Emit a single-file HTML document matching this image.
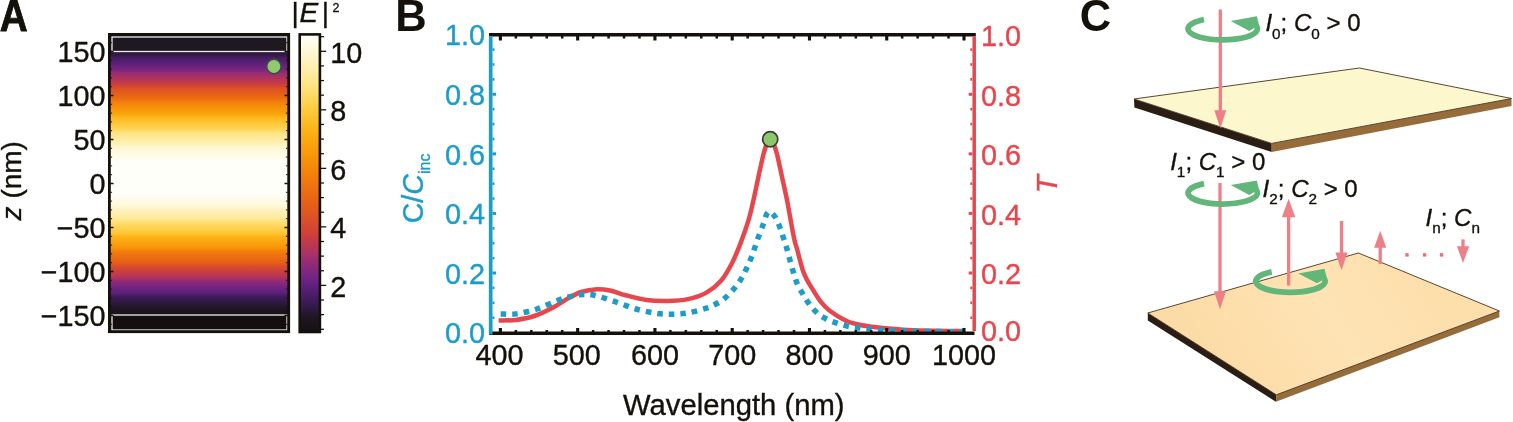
<!DOCTYPE html>
<html lang="en"><head><meta charset="utf-8"><title>Figure</title>
<style>html,body{margin:0;padding:0;background:#fff}body{width:1513px;height:422px;overflow:hidden}svg{display:block}text{font-family:'Liberation Sans', Arial, Helvetica, sans-serif}</style></head><body>
<svg width="1513" height="422" viewBox="0 0 1513 422">
<rect width="1513" height="422" fill="#fff"/>
<defs>
<linearGradient id="heat" gradientUnits="userSpaceOnUse" x1="0" y1="34" x2="0" y2="332">
<stop offset="0" stop-color="#161114"/>
<stop offset="0.02" stop-color="#181218"/>
<stop offset="0.03" stop-color="#1b141e"/>
<stop offset="0.05" stop-color="#23172a"/>
<stop offset="0.07" stop-color="#321945"/>
<stop offset="0.08" stop-color="#451d60"/>
<stop offset="0.1" stop-color="#5e207b"/>
<stop offset="0.12" stop-color="#782580"/>
<stop offset="0.13" stop-color="#952c74"/>
<stop offset="0.15" stop-color="#b1345d"/>
<stop offset="0.17" stop-color="#cc3f3c"/>
<stop offset="0.18" stop-color="#da4e29"/>
<stop offset="0.2" stop-color="#e55f19"/>
<stop offset="0.22" stop-color="#ed7011"/>
<stop offset="0.23" stop-color="#f3820c"/>
<stop offset="0.25" stop-color="#f79409"/>
<stop offset="0.27" stop-color="#fba60f"/>
<stop offset="0.28" stop-color="#fdb71d"/>
<stop offset="0.3" stop-color="#ffc736"/>
<stop offset="0.32" stop-color="#ffd559"/>
<stop offset="0.33" stop-color="#ffe27d"/>
<stop offset="0.35" stop-color="#ffea9d"/>
<stop offset="0.37" stop-color="#fff1b9"/>
<stop offset="0.38" stop-color="#fff6d0"/>
<stop offset="0.4" stop-color="#fffae2"/>
<stop offset="0.42" stop-color="#fffdf0"/>
<stop offset="0.43" stop-color="#fffffa"/>
<stop offset="0.45" stop-color="#fffffa"/>
<stop offset="0.47" stop-color="#fffffa"/>
<stop offset="0.48" stop-color="#fffffa"/>
<stop offset="0.5" stop-color="#fffffa"/>
<stop offset="0.52" stop-color="#fffffa"/>
<stop offset="0.53" stop-color="#fffffa"/>
<stop offset="0.55" stop-color="#fffcee"/>
<stop offset="0.57" stop-color="#fff9df"/>
<stop offset="0.58" stop-color="#fff5cd"/>
<stop offset="0.6" stop-color="#ffefb4"/>
<stop offset="0.62" stop-color="#ffe998"/>
<stop offset="0.63" stop-color="#ffdf77"/>
<stop offset="0.65" stop-color="#ffd352"/>
<stop offset="0.67" stop-color="#fec432"/>
<stop offset="0.68" stop-color="#fdb418"/>
<stop offset="0.7" stop-color="#faa30e"/>
<stop offset="0.72" stop-color="#f79108"/>
<stop offset="0.73" stop-color="#f27e0c"/>
<stop offset="0.75" stop-color="#ec6d12"/>
<stop offset="0.77" stop-color="#e45c1a"/>
<stop offset="0.78" stop-color="#d84b2c"/>
<stop offset="0.8" stop-color="#c73d42"/>
<stop offset="0.82" stop-color="#ac3262"/>
<stop offset="0.83" stop-color="#902a76"/>
<stop offset="0.85" stop-color="#732482"/>
<stop offset="0.87" stop-color="#592076"/>
<stop offset="0.88" stop-color="#411c5c"/>
<stop offset="0.9" stop-color="#2f1940"/>
<stop offset="0.92" stop-color="#201626"/>
<stop offset="0.93" stop-color="#1b141d"/>
<stop offset="0.95" stop-color="#171217"/>
<stop offset="0.97" stop-color="#151114"/>
<stop offset="0.98" stop-color="#141012"/>
<stop offset="1" stop-color="#141012"/>
</linearGradient>
<linearGradient id="cbar" gradientUnits="userSpaceOnUse" x1="0" y1="34" x2="0" y2="332.5">
<stop offset="0" stop-color="#fffffa"/>
<stop offset="0.08" stop-color="#fff4c8"/>
<stop offset="0.17" stop-color="#ffe484"/>
<stop offset="0.25" stop-color="#ffcc3e"/>
<stop offset="0.33" stop-color="#fdb012"/>
<stop offset="0.42" stop-color="#f79208"/>
<stop offset="0.5" stop-color="#f0760e"/>
<stop offset="0.58" stop-color="#e45c1a"/>
<stop offset="0.67" stop-color="#d04038"/>
<stop offset="0.75" stop-color="#a02e70"/>
<stop offset="0.83" stop-color="#682286"/>
<stop offset="0.9" stop-color="#3a1b54"/>
<stop offset="0.95" stop-color="#1e1622"/>
<stop offset="1" stop-color="#141012"/>
</linearGradient>
<linearGradient id="slab2" gradientUnits="userSpaceOnUse" x1="1230" y1="390" x2="1420" y2="270"><stop offset="0" stop-color="#fcdca6"/><stop offset="0.55" stop-color="#fee3b4"/><stop offset="1" stop-color="#fddfac"/></linearGradient>
</defs>
<g font-weight="700" font-size="43.5" fill="#14110b">
<text transform="translate(-0.2 30.6) scale(0.89 1)" stroke="#14110b" stroke-width="0.8">A</text>
<text x="395.2" y="30.6">B</text>
<text x="1079.7" y="30.6">C</text>
</g>
<rect x="109.5" y="34.5" width="179" height="297" fill="url(#heat)"/>
<rect x="112" y="37" width="175" height="14.5" fill="#201820" stroke="#efebef" stroke-width="1.3"/>
<rect x="112" y="315" width="175" height="15" fill="#14100f" stroke="#efebec" stroke-width="1.3"/>
<rect x="109.4" y="34.4" width="179.3" height="297.3" fill="none" stroke="#14110b" stroke-width="2.8"/>
<path d="M110.5 315.5 h3 M287.5 315.5 h-3" stroke="#14110b" stroke-width="1.6"/>
<path d="M110.5 271.5 h3 M287.5 271.5 h-3" stroke="#14110b" stroke-width="1.6"/>
<path d="M110.5 227.5 h3 M287.5 227.5 h-3" stroke="#14110b" stroke-width="1.6"/>
<path d="M110.5 183.5 h3 M287.5 183.5 h-3" stroke="#14110b" stroke-width="1.6"/>
<path d="M110.5 139.5 h3 M287.5 139.5 h-3" stroke="#14110b" stroke-width="1.6"/>
<path d="M110.5 95.5 h3 M287.5 95.5 h-3" stroke="#14110b" stroke-width="1.6"/>
<path d="M110.5 51.5 h3 M287.5 51.5 h-3" stroke="#14110b" stroke-width="1.6"/>
<path d="M110.5 324.3 h1.6 M287.5 324.3 h-1.6" stroke="#14110b" stroke-width="1"/>
<path d="M110.5 315.5 h1.6 M287.5 315.5 h-1.6" stroke="#14110b" stroke-width="1"/>
<path d="M110.5 306.7 h1.6 M287.5 306.7 h-1.6" stroke="#14110b" stroke-width="1"/>
<path d="M110.5 297.9 h1.6 M287.5 297.9 h-1.6" stroke="#14110b" stroke-width="1"/>
<path d="M110.5 289.1 h1.6 M287.5 289.1 h-1.6" stroke="#14110b" stroke-width="1"/>
<path d="M110.5 280.3 h1.6 M287.5 280.3 h-1.6" stroke="#14110b" stroke-width="1"/>
<path d="M110.5 271.5 h1.6 M287.5 271.5 h-1.6" stroke="#14110b" stroke-width="1"/>
<path d="M110.5 262.7 h1.6 M287.5 262.7 h-1.6" stroke="#14110b" stroke-width="1"/>
<path d="M110.5 253.9 h1.6 M287.5 253.9 h-1.6" stroke="#14110b" stroke-width="1"/>
<path d="M110.5 245.1 h1.6 M287.5 245.1 h-1.6" stroke="#14110b" stroke-width="1"/>
<path d="M110.5 236.3 h1.6 M287.5 236.3 h-1.6" stroke="#14110b" stroke-width="1"/>
<path d="M110.5 227.5 h1.6 M287.5 227.5 h-1.6" stroke="#14110b" stroke-width="1"/>
<path d="M110.5 218.7 h1.6 M287.5 218.7 h-1.6" stroke="#14110b" stroke-width="1"/>
<path d="M110.5 209.9 h1.6 M287.5 209.9 h-1.6" stroke="#14110b" stroke-width="1"/>
<path d="M110.5 201.1 h1.6 M287.5 201.1 h-1.6" stroke="#14110b" stroke-width="1"/>
<path d="M110.5 192.3 h1.6 M287.5 192.3 h-1.6" stroke="#14110b" stroke-width="1"/>
<path d="M110.5 183.5 h1.6 M287.5 183.5 h-1.6" stroke="#14110b" stroke-width="1"/>
<path d="M110.5 174.7 h1.6 M287.5 174.7 h-1.6" stroke="#14110b" stroke-width="1"/>
<path d="M110.5 165.9 h1.6 M287.5 165.9 h-1.6" stroke="#14110b" stroke-width="1"/>
<path d="M110.5 157.1 h1.6 M287.5 157.1 h-1.6" stroke="#14110b" stroke-width="1"/>
<path d="M110.5 148.3 h1.6 M287.5 148.3 h-1.6" stroke="#14110b" stroke-width="1"/>
<path d="M110.5 139.5 h1.6 M287.5 139.5 h-1.6" stroke="#14110b" stroke-width="1"/>
<path d="M110.5 130.7 h1.6 M287.5 130.7 h-1.6" stroke="#14110b" stroke-width="1"/>
<path d="M110.5 121.9 h1.6 M287.5 121.9 h-1.6" stroke="#14110b" stroke-width="1"/>
<path d="M110.5 113.1 h1.6 M287.5 113.1 h-1.6" stroke="#14110b" stroke-width="1"/>
<path d="M110.5 104.3 h1.6 M287.5 104.3 h-1.6" stroke="#14110b" stroke-width="1"/>
<path d="M110.5 95.5 h1.6 M287.5 95.5 h-1.6" stroke="#14110b" stroke-width="1"/>
<path d="M110.5 86.7 h1.6 M287.5 86.7 h-1.6" stroke="#14110b" stroke-width="1"/>
<path d="M110.5 77.9 h1.6 M287.5 77.9 h-1.6" stroke="#14110b" stroke-width="1"/>
<path d="M110.5 69.1 h1.6 M287.5 69.1 h-1.6" stroke="#14110b" stroke-width="1"/>
<path d="M110.5 60.3 h1.6 M287.5 60.3 h-1.6" stroke="#14110b" stroke-width="1"/>
<path d="M110.5 51.5 h1.6 M287.5 51.5 h-1.6" stroke="#14110b" stroke-width="1"/>
<path d="M110.5 42.7 h1.6 M287.5 42.7 h-1.6" stroke="#14110b" stroke-width="1"/>
<circle cx="273.9" cy="66.5" r="7.2" fill="#90c874" stroke="#3d4d3a" stroke-width="1.5"/>
<g font-size="28.8" fill="#14110b" text-anchor="end" stroke="#14110b" stroke-width="0.35">
<text x="105.5" y="62.1">150</text>
<text x="105.5" y="106.1">100</text>
<text x="105.5" y="150.1">50</text>
<text x="105.5" y="194.1">0</text>
<text x="105.5" y="238.1">−50</text>
<text x="105.5" y="282.1">−100</text>
<text x="105.5" y="326.1">−150</text>
</g>
<text transform="translate(21.3 220.4) rotate(-90)" font-size="28" fill="#14110b" stroke="#14110b" stroke-width="0.35"><tspan font-style="italic">z</tspan> (nm)</text>
<rect x="299.7" y="34.4" width="20.2" height="297.6" fill="url(#cbar)" stroke="#14110b" stroke-width="2.6"/>
<path d="M321 329.27 h3" stroke="#14110b" stroke-width="1.25"/>
<path d="M321 314.64 h3" stroke="#14110b" stroke-width="1.25"/>
<path d="M321 300.01 h3" stroke="#14110b" stroke-width="1.25"/>
<path d="M321 285.38 h5.2" stroke="#14110b" stroke-width="1.25"/>
<path d="M321 270.75 h3" stroke="#14110b" stroke-width="1.25"/>
<path d="M321 256.12 h3" stroke="#14110b" stroke-width="1.25"/>
<path d="M321 241.49 h3" stroke="#14110b" stroke-width="1.25"/>
<path d="M321 226.86 h5.2" stroke="#14110b" stroke-width="1.25"/>
<path d="M321 212.23 h3" stroke="#14110b" stroke-width="1.25"/>
<path d="M321 197.6 h3" stroke="#14110b" stroke-width="1.25"/>
<path d="M321 182.97 h3" stroke="#14110b" stroke-width="1.25"/>
<path d="M321 168.34 h5.2" stroke="#14110b" stroke-width="1.25"/>
<path d="M321 153.71 h3" stroke="#14110b" stroke-width="1.25"/>
<path d="M321 139.08 h3" stroke="#14110b" stroke-width="1.25"/>
<path d="M321 124.45 h3" stroke="#14110b" stroke-width="1.25"/>
<path d="M321 109.82 h5.2" stroke="#14110b" stroke-width="1.25"/>
<path d="M321 95.19 h3" stroke="#14110b" stroke-width="1.25"/>
<path d="M321 80.56 h3" stroke="#14110b" stroke-width="1.25"/>
<path d="M321 65.93 h3" stroke="#14110b" stroke-width="1.25"/>
<path d="M321 51.3 h5.2" stroke="#14110b" stroke-width="1.25"/>
<path d="M321 36.67 h3" stroke="#14110b" stroke-width="1.25"/>
<g font-size="28.8" fill="#14110b" stroke="#14110b" stroke-width="0.35">
<text x="330.2" y="62.7">10</text>
<text x="330.2" y="121.22">8</text>
<text x="330.2" y="179.74">6</text>
<text x="330.2" y="238.26">4</text>
<text x="330.2" y="296.78">2</text>
</g>
<text y="22" font-size="28" fill="#14110b" stroke="#14110b" stroke-width="0.35"><tspan x="291.5">|</tspan><tspan x="299.6" font-style="italic">E</tspan><tspan x="321.8">|</tspan><tspan x="332.6" font-size="12.5" dy="-9.8">2</tspan></text>
<path d="M498.6 320.6 C501.5 320.48 510.05 320.67 516 319.9 C521.95 319.13 528.2 318.03 534.3 316 C540.4 313.97 546.95 310.65 552.6 307.7 C558.25 304.75 563.43 300.92 568.2 298.3 C572.97 295.68 576.42 293.52 581.2 292 C585.98 290.48 592.12 289.45 596.9 289.2 C601.68 288.95 605.12 289.5 609.9 290.5 C614.68 291.5 619.52 293.63 625.6 295.2 C631.68 296.77 639.45 298.95 646.4 299.9 C653.35 300.85 660.35 301.03 667.3 300.9 C674.25 300.77 681.58 300.48 688.1 299.1 C694.62 297.72 700.92 295.65 706.4 292.6 C711.88 289.55 716.77 285.65 721 280.8 C725.23 275.95 728.53 269.78 731.8 263.5 C735.07 257.22 737.8 250.37 740.6 243.1 C743.4 235.83 746.45 227.08 748.6 219.9 C750.75 212.72 751.88 207.08 753.5 200 C755.12 192.92 756.62 185.12 758.3 177.4 C759.98 169.68 762.08 159.52 763.6 153.7 C765.12 147.88 766.3 144.88 767.4 142.5 C768.5 140.12 769.27 139.4 770.2 139.4 C771.13 139.4 771.88 140.12 773 142.5 C774.12 144.88 775.38 147.88 776.9 153.7 C778.42 159.52 780.42 169.68 782.1 177.4 C783.78 185.12 785.58 192.92 787 200 C788.42 207.08 789.37 213.27 790.6 219.9 C791.83 226.53 793.28 234.78 794.4 239.8 C795.52 244.82 795.9 244.93 797.3 250 C798.7 255.07 801.08 265.03 802.8 270.2 C804.52 275.37 805.87 277.65 807.6 281 C809.33 284.35 811.03 286.88 813.2 290.3 C815.37 293.72 817.9 298.13 820.6 301.5 C823.3 304.87 825.25 307.32 829.4 310.5 C833.55 313.68 840.9 318.3 845.5 320.6 C850.1 322.9 852.97 323.3 857 324.3 C861.03 325.3 865.03 325.93 869.7 326.6 C874.37 327.27 878.62 327.73 885 328.3 C891.38 328.87 899.67 329.58 908 330 C916.33 330.42 925.83 330.62 935 330.8 C944.17 330.98 958.33 331.05 963 331.1" fill="none" stroke="#e8464d" stroke-width="4.5" stroke-linejoin="round"/>
<path d="M500.7 313.9 C503.25 313.9 509.97 314.72 516 313.9 C522.03 313.08 529.93 311.25 536.9 309 C543.87 306.75 551.72 302.62 557.8 300.4 C563.88 298.18 569.07 296.7 573.4 295.7 C577.73 294.7 580.32 294.48 583.8 294.4 C587.28 294.32 589.08 293.98 594.3 295.2 C599.52 296.42 608.15 299.4 615.1 301.7 C622.05 304 629.05 307.05 636 309 C642.95 310.95 650.72 312.53 656.8 313.4 C662.88 314.27 667.28 314.28 672.5 314.2 C677.72 314.12 682.45 313.9 688.1 312.9 C693.75 311.9 702.2 309.47 706.4 308.2 C710.6 306.93 710.48 306.75 713.3 305.3 C716.12 303.85 719.98 302.12 723.3 299.5 C726.62 296.88 730.3 292.92 733.2 289.6 C736.1 286.28 738.43 283.2 740.7 279.6 C742.97 276 744.85 272.15 746.8 268 C748.75 263.85 750.63 259.4 752.4 254.7 C754.17 250 755.57 244.93 757.4 239.8 C759.23 234.67 761.88 228.12 763.4 223.9 C764.92 219.68 765.52 216.55 766.5 214.5 C767.48 212.45 768.32 211.75 769.3 211.6 C770.28 211.45 771.22 212.37 772.4 213.6 C773.58 214.83 775.03 216.37 776.4 219 C777.77 221.63 779.23 225.65 780.6 229.4 C781.97 233.15 783.4 237.73 784.6 241.5 C785.8 245.27 786.78 248.42 787.8 252 C788.82 255.58 789.67 259.3 790.7 263 C791.73 266.7 792.87 270.65 794 274.2 C795.13 277.75 795.98 280.93 797.5 284.3 C799.02 287.67 801.15 291.12 803.1 294.4 C805.05 297.68 806.77 300.82 809.2 304 C811.63 307.18 814.62 310.9 817.7 313.5 C820.78 316.1 824.25 317.92 827.7 319.6 C831.15 321.28 834.77 322.43 838.4 323.6 C842.03 324.77 845.7 325.83 849.5 326.6 C853.3 327.37 857.33 327.77 861.2 328.2 C865.07 328.63 867.9 328.82 872.7 329.2 C877.5 329.58 880.45 330.13 890 330.5 C899.55 330.87 917.83 331.18 930 331.4 C942.17 331.62 957.5 331.73 963 331.8" fill="none" stroke="#1b9cc9" stroke-width="5.5" stroke-dasharray="5.5 6.1"/>
<path d="M489 34.8 H975.8" stroke="#14110b" stroke-width="3.4"/>
<path d="M489 333.2 H974.5" stroke="#14110b" stroke-width="3.5"/>
<path d="M490.7 36.4 V334.5" stroke="#1b9cc9" stroke-width="3.7"/>
<path d="M974.2 36.4 V331" stroke="#e8464d" stroke-width="3.5"/>
<path d="M500.4 36 v4.4 M500.4 332 v-4" stroke="#14110b" stroke-width="3.1"/>
<path d="M515.85 36 v2.4 M515.85 332 v-2" stroke="#14110b" stroke-width="2.5"/>
<path d="M531.31 36 v2.4 M531.31 332 v-2" stroke="#14110b" stroke-width="2.5"/>
<path d="M546.76 36 v2.4 M546.76 332 v-2" stroke="#14110b" stroke-width="2.5"/>
<path d="M562.21 36 v2.4 M562.21 332 v-2" stroke="#14110b" stroke-width="2.5"/>
<path d="M577.67 36 v4.4 M577.67 332 v-4" stroke="#14110b" stroke-width="3.1"/>
<path d="M593.12 36 v2.4 M593.12 332 v-2" stroke="#14110b" stroke-width="2.5"/>
<path d="M608.57 36 v2.4 M608.57 332 v-2" stroke="#14110b" stroke-width="2.5"/>
<path d="M624.03 36 v2.4 M624.03 332 v-2" stroke="#14110b" stroke-width="2.5"/>
<path d="M639.48 36 v2.4 M639.48 332 v-2" stroke="#14110b" stroke-width="2.5"/>
<path d="M654.93 36 v4.4 M654.93 332 v-4" stroke="#14110b" stroke-width="3.1"/>
<path d="M670.39 36 v2.4 M670.39 332 v-2" stroke="#14110b" stroke-width="2.5"/>
<path d="M685.84 36 v2.4 M685.84 332 v-2" stroke="#14110b" stroke-width="2.5"/>
<path d="M701.29 36 v2.4 M701.29 332 v-2" stroke="#14110b" stroke-width="2.5"/>
<path d="M716.75 36 v2.4 M716.75 332 v-2" stroke="#14110b" stroke-width="2.5"/>
<path d="M732.2 36 v4.4 M732.2 332 v-4" stroke="#14110b" stroke-width="3.1"/>
<path d="M747.65 36 v2.4 M747.65 332 v-2" stroke="#14110b" stroke-width="2.5"/>
<path d="M763.11 36 v2.4 M763.11 332 v-2" stroke="#14110b" stroke-width="2.5"/>
<path d="M778.56 36 v2.4 M778.56 332 v-2" stroke="#14110b" stroke-width="2.5"/>
<path d="M794.01 36 v2.4 M794.01 332 v-2" stroke="#14110b" stroke-width="2.5"/>
<path d="M809.47 36 v4.4 M809.47 332 v-4" stroke="#14110b" stroke-width="3.1"/>
<path d="M824.92 36 v2.4 M824.92 332 v-2" stroke="#14110b" stroke-width="2.5"/>
<path d="M840.37 36 v2.4 M840.37 332 v-2" stroke="#14110b" stroke-width="2.5"/>
<path d="M855.83 36 v2.4 M855.83 332 v-2" stroke="#14110b" stroke-width="2.5"/>
<path d="M871.28 36 v2.4 M871.28 332 v-2" stroke="#14110b" stroke-width="2.5"/>
<path d="M886.73 36 v4.4 M886.73 332 v-4" stroke="#14110b" stroke-width="3.1"/>
<path d="M902.19 36 v2.4 M902.19 332 v-2" stroke="#14110b" stroke-width="2.5"/>
<path d="M917.64 36 v2.4 M917.64 332 v-2" stroke="#14110b" stroke-width="2.5"/>
<path d="M933.09 36 v2.4 M933.09 332 v-2" stroke="#14110b" stroke-width="2.5"/>
<path d="M948.55 36 v2.4 M948.55 332 v-2" stroke="#14110b" stroke-width="2.5"/>
<path d="M964 36 v4.4 M964 332 v-4" stroke="#14110b" stroke-width="3.1"/>
<path d="M492.5 317.71 h2" stroke="#1b9cc9" stroke-width="2.6"/>
<path d="M972.3 317.71 h-2" stroke="#e8464d" stroke-width="2.6"/>
<path d="M492.5 302.81 h2" stroke="#1b9cc9" stroke-width="2.6"/>
<path d="M972.3 302.81 h-2" stroke="#e8464d" stroke-width="2.6"/>
<path d="M492.5 287.92 h2" stroke="#1b9cc9" stroke-width="2.6"/>
<path d="M972.3 287.92 h-2" stroke="#e8464d" stroke-width="2.6"/>
<path d="M492.5 273.02 h3.6" stroke="#1b9cc9" stroke-width="3"/>
<path d="M972.3 273.02 h-3.6" stroke="#e8464d" stroke-width="3"/>
<path d="M492.5 258.12 h2" stroke="#1b9cc9" stroke-width="2.6"/>
<path d="M972.3 258.12 h-2" stroke="#e8464d" stroke-width="2.6"/>
<path d="M492.5 243.23 h2" stroke="#1b9cc9" stroke-width="2.6"/>
<path d="M972.3 243.23 h-2" stroke="#e8464d" stroke-width="2.6"/>
<path d="M492.5 228.34 h2" stroke="#1b9cc9" stroke-width="2.6"/>
<path d="M972.3 228.34 h-2" stroke="#e8464d" stroke-width="2.6"/>
<path d="M492.5 213.44 h3.6" stroke="#1b9cc9" stroke-width="3"/>
<path d="M972.3 213.44 h-3.6" stroke="#e8464d" stroke-width="3"/>
<path d="M492.5 198.55 h2" stroke="#1b9cc9" stroke-width="2.6"/>
<path d="M972.3 198.55 h-2" stroke="#e8464d" stroke-width="2.6"/>
<path d="M492.5 183.65 h2" stroke="#1b9cc9" stroke-width="2.6"/>
<path d="M972.3 183.65 h-2" stroke="#e8464d" stroke-width="2.6"/>
<path d="M492.5 168.75 h2" stroke="#1b9cc9" stroke-width="2.6"/>
<path d="M972.3 168.75 h-2" stroke="#e8464d" stroke-width="2.6"/>
<path d="M492.5 153.86 h3.6" stroke="#1b9cc9" stroke-width="3"/>
<path d="M972.3 153.86 h-3.6" stroke="#e8464d" stroke-width="3"/>
<path d="M492.5 138.97 h2" stroke="#1b9cc9" stroke-width="2.6"/>
<path d="M972.3 138.97 h-2" stroke="#e8464d" stroke-width="2.6"/>
<path d="M492.5 124.07 h2" stroke="#1b9cc9" stroke-width="2.6"/>
<path d="M972.3 124.07 h-2" stroke="#e8464d" stroke-width="2.6"/>
<path d="M492.5 109.18 h2" stroke="#1b9cc9" stroke-width="2.6"/>
<path d="M972.3 109.18 h-2" stroke="#e8464d" stroke-width="2.6"/>
<path d="M492.5 94.28 h3.6" stroke="#1b9cc9" stroke-width="3"/>
<path d="M972.3 94.28 h-3.6" stroke="#e8464d" stroke-width="3"/>
<path d="M492.5 79.38 h2" stroke="#1b9cc9" stroke-width="2.6"/>
<path d="M972.3 79.38 h-2" stroke="#e8464d" stroke-width="2.6"/>
<path d="M492.5 64.49 h2" stroke="#1b9cc9" stroke-width="2.6"/>
<path d="M972.3 64.49 h-2" stroke="#e8464d" stroke-width="2.6"/>
<path d="M492.5 49.59 h2" stroke="#1b9cc9" stroke-width="2.6"/>
<path d="M972.3 49.59 h-2" stroke="#e8464d" stroke-width="2.6"/>
<circle cx="770.2" cy="139.2" r="7.6" fill="#8dc76a" stroke="#3c3a36" stroke-width="1.7"/>
<g font-size="28.8" fill="#1b9cc9" text-anchor="end" stroke="#1b9cc9" stroke-width="0.35">
<text x="485.1" y="343.3">0.0</text>
<text x="485.1" y="283.72">0.2</text>
<text x="485.1" y="224.14">0.4</text>
<text x="485.1" y="164.56">0.6</text>
<text x="485.1" y="104.98">0.8</text>
<text x="485.1" y="45.4">1.0</text>
</g>
<g font-size="28.8" fill="#e8464d" stroke="#e8464d" stroke-width="0.35">
<text x="980.9" y="340.6">0.0</text>
<text x="980.9" y="284.42">0.2</text>
<text x="980.9" y="224.84">0.4</text>
<text x="980.9" y="165.26">0.6</text>
<text x="980.9" y="105.68">0.8</text>
<text x="980.9" y="46.1">1.0</text>
</g>
<g font-size="28.8" fill="#14110b" text-anchor="middle" stroke="#14110b" stroke-width="0.35">
<text x="499.4" y="365.2">400</text>
<text x="576.67" y="365.2">500</text>
<text x="654.93" y="365.2">600</text>
<text x="732.2" y="365.2">700</text>
<text x="809.47" y="365.2">800</text>
<text x="886.73" y="365.2">900</text>
<text x="964" y="365.2">1000</text>
</g>
<text x="623" y="415.2" font-size="28.6" fill="#14110b" textLength="221.5" lengthAdjust="spacingAndGlyphs" stroke="#14110b" stroke-width="0.35">Wavelength (nm)</text>
<text transform="translate(422.6 223.3) rotate(-90)" font-size="28.6" fill="#1b9cc9" stroke="#1b9cc9" stroke-width="0.35">C/<tspan font-style="italic">C</tspan><tspan font-size="16" dy="7.6">inc</tspan></text>
<text transform="translate(1057 193.5) rotate(-90)" font-size="30" fill="#e8464d" font-style="italic" stroke="#e8464d" stroke-width="0.35">T</text>
<path d="M1134 99 L1271.7 143.4 L1271.7 152 L1134.4 107.4 Z" fill="#2a1d13"/>
<path d="M1271.7 143.4 L1511.5 98.5 L1511.5 106 L1271.7 152 Z" fill="#966c3b"/>
<path d="M1134 99 L1359.5 68 L1511.5 98.5 L1271.7 143.4 Z" fill="#fdf7cd" stroke="#46321f" stroke-width="0.9" stroke-linejoin="round"/>
<path d="M1147.8 313 L1276.3 394.8 L1275.9 401.8 L1147.8 320.6 Z" fill="#2a1d13"/>
<path d="M1276.3 394.8 L1499.4 311 L1499.4 317.3 L1275.9 401.8 Z" fill="#966c3b"/>
<path d="M1147.8 313 L1358.4 253 L1499.4 311 L1276.3 394.8 Z" fill="url(#slab2)" stroke="#46321f" stroke-width="0.9" stroke-linejoin="round"/>
<path d="M1220.3 9.5 V111.2" stroke="#ee7f86" stroke-width="3.3" fill="none"/>
<path d="M1214.3 110.2 L1226.3 110.2 L1220.3 128.2 Z" fill="#ee7f86"/>
<path d="M1220 183 V292.2" stroke="#ee7f86" stroke-width="3.3" fill="none"/>
<path d="M1214 291.2 L1226 291.2 L1220 309.2 Z" fill="#ee7f86"/>
<path d="M1288.6 285.6 V216.3" stroke="#ee7f86" stroke-width="3.3" fill="none"/>
<path d="M1281.9 217.3 L1295.3 217.3 L1288.6 198.8 Z" fill="#ee7f86"/>
<path d="M1341.5 221 V253.4" stroke="#ee7f86" stroke-width="3.3" fill="none"/>
<path d="M1335.4 252.4 L1347.6 252.4 L1341.5 270.2 Z" fill="#ee7f86"/>
<path d="M1380.2 264 V246.8" stroke="#ee7f86" stroke-width="3.3" fill="none"/>
<path d="M1374.1 247.8 L1386.3 247.8 L1380.2 230.8 Z" fill="#ee7f86"/>
<path d="M1463 239.4 V247.2" stroke="#ee7f86" stroke-width="3.3" fill="none"/>
<path d="M1456.9 246.2 L1469.1 246.2 L1463 263 Z" fill="#ee7f86"/>
<rect x="1405.3" y="253.2" width="3.4" height="3.4" fill="#ec6f78"/>
<rect x="1422.9" y="253.2" width="3.4" height="3.4" fill="#ec6f78"/>
<rect x="1439.8" y="253.2" width="3.4" height="3.4" fill="#ec6f78"/>
<g transform="translate(1221.8 28.1)"><path d="M -17.8 -8.6 A 34.7 11.1 0 1 0 34.4 -2.2" fill="none" stroke="#62b67a" stroke-width="5.7"/><path d="M 8.9 -7.1 L 35 -11.8 L 37.2 -3 L 27.5 2.8 Z" fill="#62b67a"/></g>
<g transform="translate(1221.8 192.2)"><path d="M -17.8 -8.6 A 34.7 11.1 0 1 0 34.4 -2.2" fill="none" stroke="#62b67a" stroke-width="5.7"/><path d="M 8.9 -7.1 L 35 -11.8 L 37.2 -3 L 27.5 2.8 Z" fill="#62b67a"/></g>
<g transform="translate(1289.5 280.5)"><path d="M -17.8 -8.6 A 34.7 11.1 0 1 0 34.4 -2.2" fill="none" stroke="#62b67a" stroke-width="5.7"/><path d="M 8.9 -7.1 L 35 -11.8 L 37.2 -3 L 27.5 2.8 Z" fill="#62b67a"/></g>
<text x="1265.4" y="31.3" font-size="24" fill="#14110b" stroke="#14110b" stroke-width="0.35"><tspan font-style="italic">I</tspan><tspan font-size="15.3" dy="7.5">0</tspan><tspan dy="-7.5">; </tspan><tspan font-style="italic">C</tspan><tspan font-size="15.3" dy="7.5">0</tspan><tspan dy="-7.5"> &gt; 0</tspan></text>
<text x="1170.2" y="169.6" font-size="24" fill="#14110b" stroke="#14110b" stroke-width="0.35"><tspan font-style="italic">I</tspan><tspan font-size="15.3" dy="7.5">1</tspan><tspan dy="-7.5">; </tspan><tspan font-style="italic">C</tspan><tspan font-size="15.3" dy="7.5">1</tspan><tspan dy="-7.5"> &gt; 0</tspan></text>
<text x="1262.6" y="196.9" font-size="24" fill="#14110b" stroke="#14110b" stroke-width="0.35"><tspan font-style="italic">I</tspan><tspan font-size="15.3" dy="7.5">2</tspan><tspan dy="-7.5">; </tspan><tspan font-style="italic">C</tspan><tspan font-size="15.3" dy="7.5">2</tspan><tspan dy="-7.5"> &gt; 0</tspan></text>
<text x="1425.5" y="225.6" font-size="24" fill="#14110b" stroke="#14110b" stroke-width="0.35"><tspan font-style="italic">I</tspan><tspan font-size="15.3" dy="7.5">n</tspan><tspan dy="-7.5">; </tspan><tspan font-style="italic">C</tspan><tspan font-size="15.3" dy="7.5">n</tspan><tspan dy="-7.5"></tspan></text>
</svg></body></html>
